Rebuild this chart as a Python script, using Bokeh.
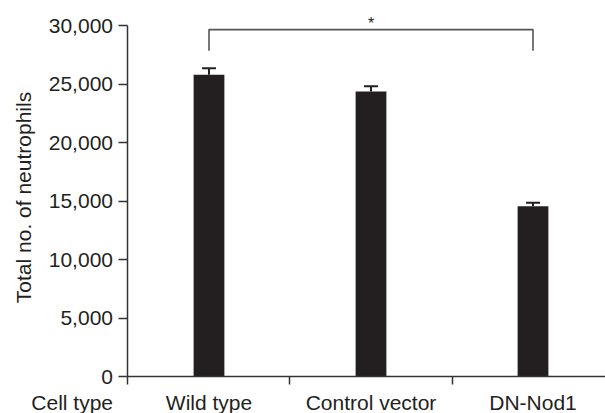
import math
from bokeh.plotting import figure
from bokeh.models import (Range1d, FixedTicker, NumeralTickFormatter, ColumnDataSource,
                          Label, LinearAxis)
from bokeh.embed import file_html
from bokeh.resources import INLINE

# ---- data ----
categories = ["Wild type", "Control vector", "DN-Nod1"]
values = [25800, 24350, 14550]
errors = [550, 450, 300]
y_ticks = [0, 5000, 10000, 15000, 20000, 25000, 30000]
y_label = "Total no. of neutrophils"
x_title = "Cell type"
sig_text = "*"

FONT = "Liberation Sans"
FS = "21px"
TXT = "#231f20"
AX = "#333333"

xs = list(range(len(categories)))
src = ColumnDataSource(dict(x=xs, top=values, err_top=[v + e for v, e in zip(values, errors)],
                            cap_l=[x - 0.043 for x in xs], cap_r=[x + 0.043 for x in xs]))

p = figure(width=605, height=413, output_backend="svg", toolbar_location=None,
           x_range=Range1d(-1.287, 2.4475), y_range=Range1d(-3162, 32137),
           x_axis_location=None, y_axis_location=None,
           min_border_left=0, min_border_right=0, min_border_top=0, min_border_bottom=0)
p.outline_line_color = None
p.xgrid.visible = False
p.ygrid.visible = False
p.background_fill_color = "white"

# bars
p.vbar(x="x", top="top", width=0.19, source=src, fill_color="#231f20", line_color=None)
# error bars (upper only)
p.segment(x0="x", y0="top", x1="x", y1="err_top", source=src, line_color="#231f20", line_width=2)
p.segment(x0="cap_l", y0="err_top", x1="cap_r", y1="err_top", source=src, line_color="#231f20", line_width=2)

# significance bracket between first and last group
p.line(x=[0, 0, 2, 2], y=[27840, 29650, 29650, 27840], line_color="#555555", line_width=1.6)
p.add_layout(Label(x=1, y=30200, text=sig_text, text_align="center", text_baseline="middle",
                   text_font=FONT, text_font_size="16px", text_color=TXT))

# y axis (drawn at the left edge of the category span)
ya = LinearAxis(fixed_location=-0.5)
ya.ticker = FixedTicker(ticks=y_ticks)
ya.formatter = NumeralTickFormatter(format="0,0")
ya.bounds = (0, 30000)
ya.axis_line_color = AX
ya.axis_line_width = 1.5
ya.major_tick_line_color = AX
ya.major_tick_line_width = 1.5
ya.major_tick_out = 9
ya.major_tick_in = 0
ya.minor_tick_line_color = None
ya.major_label_standoff = 6
ya.major_label_text_font = FONT
ya.major_label_text_font_size = FS
ya.major_label_text_color = TXT
p.add_layout(ya, "left")

# x axis at y = 0: boundary ticks (minor) and category labels (major, tick hidden)
xa = LinearAxis(fixed_location=0)
xa.ticker = FixedTicker(ticks=xs, minor_ticks=[-0.5, 0.5, 1.5])
xa.major_label_overrides = {x: c for x, c in zip(xs, categories)}
xa.bounds = (-0.5, 2.5)
xa.axis_line_color = AX
xa.axis_line_width = 1.5
xa.major_tick_line_color = None
xa.major_tick_out = 0
xa.major_tick_in = 0
xa.minor_tick_line_color = AX
xa.minor_tick_line_width = 1.5
xa.minor_tick_out = 8
xa.minor_tick_in = 0
xa.major_label_standoff = 6
xa.major_label_text_font = FONT
xa.major_label_text_font_size = FS
xa.major_label_text_color = TXT
p.add_layout(xa, "below")

# axis titles
p.add_layout(Label(x=-0.5, y=0, x_offset=-15, y_offset=-14, text=x_title, text_align="right",
                   text_baseline="top", text_font=FONT, text_font_size=FS, text_color=TXT))
p.add_layout(Label(x=-0.5, y=15300, x_offset=-104.5, text=y_label, angle=math.pi / 2,
                   text_align="center", text_baseline="middle", text_font=FONT,
                   text_font_size=FS, text_color=TXT))

open("out.html", "w").write(file_html(p, INLINE))
